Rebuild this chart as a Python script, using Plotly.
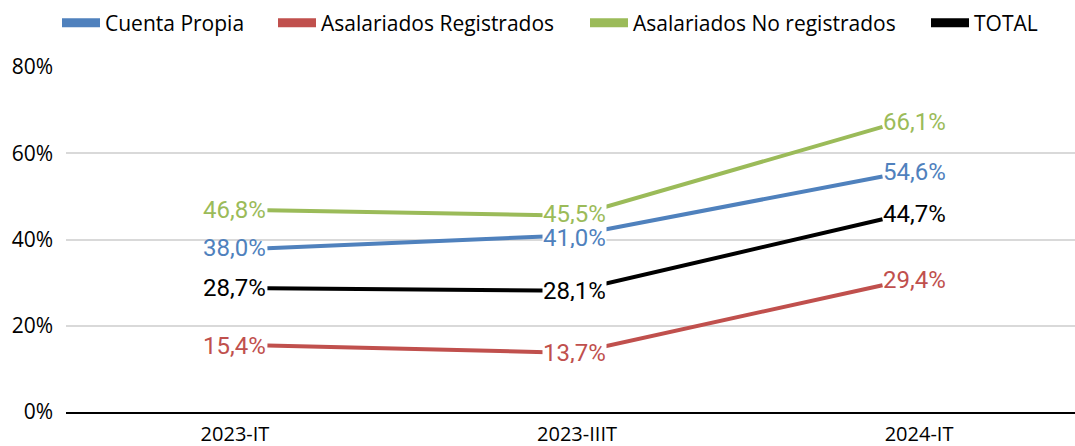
import plotly.graph_objects as go

categories = ["2023-IT", "2023-IIIT", "2024-IT"]
cuenta_propia = [38.0, 41.0, 54.6]
asal_registrados = [15.4, 13.7, 29.4]
asal_no_registrados = [46.8, 45.5, 66.1]
total = [28.7, 28.1, 44.7]
y_tick_vals = [0, 20, 40, 60, 80]
y_tick_text = ["0%", "20%", "40%", "60%", "80%"]

series = [
    ("Cuenta Propia", cuenta_propia, "#4F81BD"),
    ("Asalariados Registrados", asal_registrados, "#C0504D"),
    ("Asalariados No registrados", asal_no_registrados, "#9BBB59"),
    ("TOTAL", total, "#000000"),
]
legend_ids = ["legend", "legend2", "legend3", "legend4"]
legend_x_px = [57, 273, 585, 926]
mid_label_shift = [-2, 0, 2, 0]

def fmt(v):
    return f"{v:.1f}".replace(".", ",") + "%"

fig = go.Figure()
annotations = []
for (name, vals, color), lid, mshift in zip(series, legend_ids, mid_label_shift):
    fig.add_trace(go.Scatter(
        x=categories, y=vals, name=name, mode="lines",
        line=dict(color=color, width=4),
        xaxis="x", yaxis="y", showlegend=False, hoverinfo="skip",
    ))
    # legend-only entry with a thicker, boxier symbol
    fig.add_trace(go.Scatter(
        x=[None], y=[None], name=name, mode="lines",
        line=dict(color=color, width=9),
        xaxis="x", yaxis="y", showlegend=True, legend=lid,
    ))
    for i, (c, v) in enumerate(zip(categories, vals)):
        anchor = ["right", "center", "left"][i]
        ann = dict(
            x=c, y=v, xref="x", yref="y", text=fmt(v), showarrow=False,
            xanchor=anchor, yanchor="middle",
            yshift=[0, mshift, 5][i],
            bgcolor=("white" if i == 1 else "rgba(0,0,0,0)"),
            borderpad=0,
            font=dict(family="Roboto", size=24, color=color),
        )
        if i == 1:
            ann["height"] = 21
            ann["valign"] = "middle"
        annotations.append(ann)

annotations.sort(key=lambda a: a["y"])

# axis carrying the category tick labels
fig.add_trace(go.Scatter(
    x=categories, y=[0, 0, 0], mode="markers", marker=dict(opacity=0),
    showlegend=False, hoverinfo="skip", xaxis="x2", yaxis="y",
))

legend_common = dict(
    orientation="h", xref="container", yref="container",
    y=1 - 23 / 446, xanchor="left", yanchor="middle",
    font=dict(family="Open Sans", size=21, color="#000000"),
    itemwidth=38, bgcolor="rgba(0,0,0,0)",
)
legends = {lid: dict(legend_common, x=px / 1075) for lid, px in zip(legend_ids, legend_x_px)}

fig.update_layout(
    width=1075, height=446,
    margin=dict(l=66, r=0, t=67, b=34, autoexpand=False),
    paper_bgcolor="white", plot_bgcolor="white",
    showlegend=True,
    xaxis=dict(
        type="category", range=[-0.655, 2.626],
        showgrid=False, showticklabels=False, ticks="",
        showline=True, linecolor="#000000", linewidth=2,
        zeroline=False, automargin=False,
    ),
    xaxis2=dict(
        type="category", range=[-0.494, 2.456], overlaying="x", anchor="y",
        showgrid=False, ticks="", showline=False, zeroline=False,
        tickfont=dict(family="Open Sans", size=20, color="#000000"),
        ticklabelstandoff=8, side="bottom", automargin=False,
    ),
    yaxis=dict(
        range=[0, 80], tickvals=y_tick_vals, ticktext=y_tick_text,
        showgrid=True, gridcolor="#D9D9D9", gridwidth=1.5,
        zeroline=False, ticks="", showline=False,
        tickfont=dict(family="Open Sans", size=21, color="#000000"),
        ticklabelstandoff=12, automargin=False,
    ),
    annotations=annotations,
    **legends,
)

fig.write_html("out.html", config={"displayModeBar": False},
               post_script="document.body.style.margin='0';")
